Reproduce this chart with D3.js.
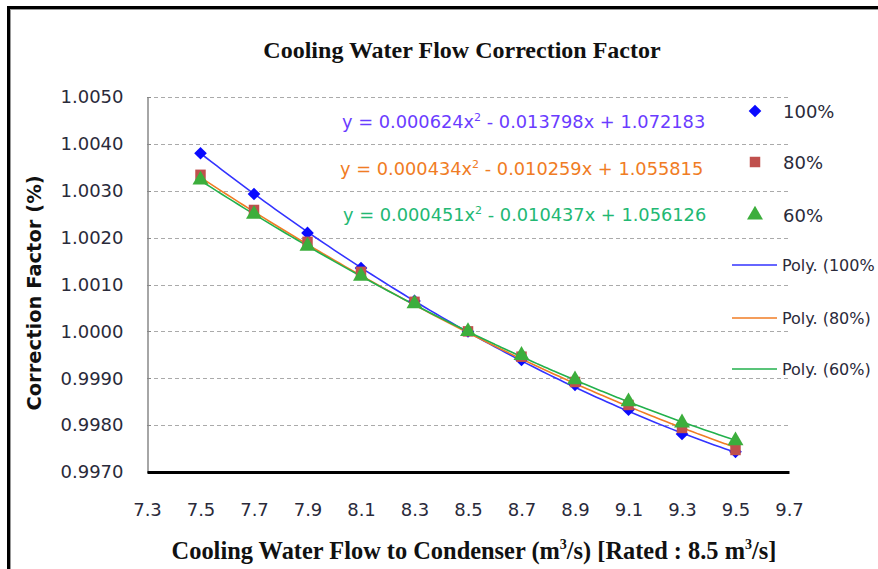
<!DOCTYPE html>
<html><head><meta charset="utf-8">
<script src="https://cdn.jsdelivr.net/npm/d3@7"></script>
<style>body{margin:0;background:#fff}svg{display:block}</style>
</head><body><svg id="c" width="878" height="569"></svg>
<script>
const xTicks = [7.3,7.5,7.7,7.9,8.1,8.3,8.5,8.7,8.9,9.1,9.3,9.5,9.7];
const yTicks = [0.9970,0.9980,0.9990,1.0000,1.0010,1.0020,1.0030,1.0040,1.0050];
const flow = [7.5,7.7,7.9,8.1,8.3,8.5,8.7,8.9,9.1,9.3,9.5];
const load100 = [1.00380,1.00293,1.00210,1.00135,1.00065,1.00000,0.99939,0.99886,0.99833,0.99781,0.99743];
const load80  = [1.00334,1.00259,1.00191,1.00127,1.00063,1.00000,0.99946,0.99892,0.99843,0.99794,0.99747];
const load60  = [1.00323,1.00250,1.00182,1.00118,1.00059,1.00000,0.99949,0.99897,0.99850,0.99805,0.99767];
const coef100 = [0.000624,-0.013798,1.072183];
const coef80  = [0.000434,-0.010259,1.055815];
const coef60  = [0.000451,-0.010437,1.056126];
const seriesNames = ["100%","80%","60%"];
const eqTexts = [["0.000624","0.013798","1.072183"],["0.000434","0.010259","1.055815"],["0.000451","0.010437","1.056126"]];

const SANS = "DejaVu Sans, Verdana, sans-serif";
const SERIF = "Liberation Serif, Times New Roman, serif";
const svg = d3.select("#c");
const x = d3.scaleLinear().domain([7.3,9.7]).range([147,789]);
const y = d3.scaleLinear().domain([0.9970,1.0050]).range([472,97]);

// outer frame
svg.append("rect").attr("x",8.5).attr("y",7.5).attr("width",900).attr("height",600)
  .attr("fill","none").attr("stroke","#000").attr("stroke-width",3);
svg.append("line").attr("x1",10).attr("x2",878).attr("y1",9.5).attr("y2",9.5).attr("stroke","#999").attr("stroke-width",1);
svg.append("line").attr("x1",10.5).attr("x2",10.5).attr("y1",9).attr("y2",569).attr("stroke","#999").attr("stroke-width",1);

// title
svg.append("text").attr("x",462).attr("y",58).attr("text-anchor","middle")
  .attr("font-family",SERIF).attr("font-weight","bold")
  .attr("font-size",24).attr("fill","#111").text("Cooling Water Flow Correction Factor");

// gridlines
svg.append("g").selectAll("line").data(yTicks.slice(1)).join("line")
  .attr("x1",147).attr("x2",789).attr("y1",d=>Math.round(y(d))+0.5).attr("y2",d=>Math.round(y(d))+0.5)
  .attr("stroke","#aaa").attr("stroke-width",1.2).attr("stroke-dasharray","4,3");

// y axis
const yAxis = d3.axisLeft(y).tickValues(yTicks).tickFormat(d3.format(".4f")).tickSize(0).tickPadding(24);
const gy = svg.append("g").attr("transform","translate(147.5,0)").call(yAxis);
gy.select(".domain").attr("stroke","#888").attr("stroke-width",1.5);
gy.selectAll("text").attr("font-family",SANS).attr("font-size",18).attr("fill","#2a2a3a");
svg.append("g").selectAll("line").data(yTicks).join("line")
  .attr("x1",147).attr("x2",151).attr("y1",d=>Math.round(y(d))+0.5).attr("y2",d=>Math.round(y(d))+0.5)
  .attr("stroke","#888");

// x axis
const xAxis = d3.axisBottom(x).tickValues(xTicks).tickFormat(d3.format(".1f")).tickSize(0).tickPadding(31);
const gx = svg.append("g").attr("transform","translate(0,472)").call(xAxis);
gx.select(".domain").attr("stroke","#000").attr("stroke-width",3);
gx.selectAll("text").attr("font-family",SANS).attr("font-size",18).attr("fill","#2a2a3a");

// axis titles
const xt = svg.append("text").attr("x",474).attr("y",559).attr("text-anchor","middle")
  .attr("font-family",SERIF).attr("font-weight","bold")
  .attr("font-size",24.4).attr("fill","#111");
xt.append("tspan").text("Cooling Water Flow to Condenser (m");
xt.append("tspan").attr("font-size",14).attr("dy",-10).text("3");
xt.append("tspan").attr("dy",10).text("/s) [Rated : 8.5 m");
xt.append("tspan").attr("font-size",14).attr("dy",-10).text("3");
xt.append("tspan").attr("dy",10).text("/s]");

svg.append("text").attr("transform","translate(41,293) rotate(-90)").attr("text-anchor","middle")
  .attr("font-family",SANS).attr("font-weight","bold")
  .attr("font-size",19.5).attr("fill","#111").text("Correction Factor (%)");

// trendlines
const trendColors = ["#3333ff","#f07c24","#22b14c"];
const coefs = [coef100,coef80,coef60];
const line = d3.line().x(d=>x(d[0])).y(d=>y(d[1])).curve(d3.curveMonotoneX);
coefs.forEach((c,i)=>{
  const pts = d3.range(7.5,9.5001,0.02).map(v=>[v,c[0]*v*v+c[1]*v+c[2]]);
  svg.append("path").attr("d",line(pts)).attr("fill","none").attr("stroke",trendColors[i]).attr("stroke-width",1.6);
});

// markers
const markerColors = ["#0a0aff","#c0504d","#3cae3c"];
const symbols = [d3.symbolSquare, d3.symbolSquare, d3.symbolTriangle];
const sizes = [80, 110, 110];
const rot = [45, 0, 0];
const allSeries = [load100,load80,load60];
function markerPath(i){ return d3.symbol().type(symbols[i]).size(sizes[i])(); }
allSeries.forEach((s,i)=>{
  svg.append("g").selectAll("path").data(s).join("path")
    .attr("transform",(d,j)=>`translate(${x(flow[j])},${y(d)}) rotate(${rot[i]})`)
    .attr("d",markerPath(i))
    .attr("fill",markerColors[i]);
});

// equations
const eqColors = ["#6a3cff","#f07c24","#22b873"];
const eqY = [128,175,221];
eqTexts.forEach((e,i)=>{
  const t = svg.append("text").attr("x",[342,340,343][i]).attr("y",eqY[i])
    .attr("font-family",SANS).attr("font-size",17.8).attr("fill",eqColors[i]);
  t.append("tspan").text(`y = ${e[0]}x`);
  t.append("tspan").attr("font-size",11).attr("dy",-7).text("2");
  t.append("tspan").attr("dy",7).text(` - ${e[1]}x + ${e[2]}`);
});

// legend
const lg = svg.append("g");
const legY = [111,162,215];
seriesNames.forEach((n,i)=>{
  lg.append("path").attr("transform",`translate(755,${legY[i]}) rotate(${rot[i]})`)
    .attr("d",markerPath(i)).attr("fill",markerColors[i]);
  lg.append("text").attr("x",783).attr("y",legY[i]+6.5).attr("font-family",SANS)
    .attr("font-size",18).attr("fill","#2a2a3a").text(n);
});
const legLY = [265,318,369];
seriesNames.forEach((n,i)=>{
  lg.append("line").attr("x1",732).attr("x2",777).attr("y1",legLY[i]).attr("y2",legLY[i])
    .attr("stroke",trendColors[i]).attr("stroke-width",1.6);
  lg.append("text").attr("x",782).attr("y",legLY[i]+5.5).attr("font-family",SANS)
    .attr("font-size",16).attr("fill","#2a2a3a").text(i===0?"Poly. (100%":`Poly. (${n})`);
});
</script></body></html>
